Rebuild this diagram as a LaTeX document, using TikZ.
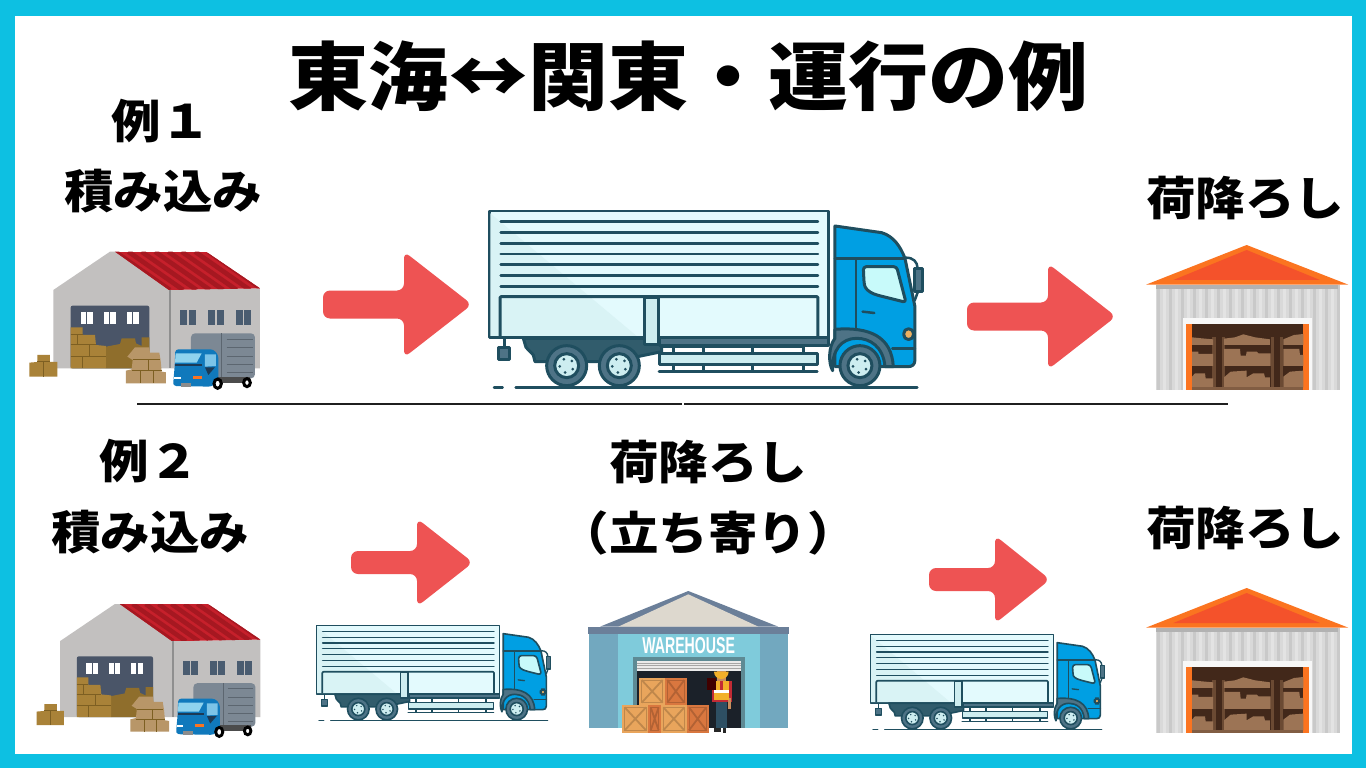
\documentclass[tikz,border=0pt]{standalone}
\usepackage{fontspec}
\newfontfamily\cjk{Noto Sans CJK JP}
\setsansfont{Liberation Sans}
\definecolor{framec}{HTML}{0DC0E2}
\definecolor{arrowc}{HTML}{EE5353}
\definecolor{tkline}{HTML}{1F4E5F}
\definecolor{tkbox}{HTML}{E3FAFD}
\definecolor{tkshade}{HTML}{D9F3F5}
\definecolor{tkpale}{HTML}{CDEDF0}
\definecolor{tkmid}{HTML}{4E7386}
\definecolor{tkblue}{HTML}{009FE3}
\definecolor{tkwin}{HTML}{C8FAFA}
\definecolor{tklamp}{HTML}{EDB061}
\definecolor{rwall}{HTML}{C2C0BF}
\definecolor{rroof}{HTML}{C6202B}
\definecolor{rstripe}{HTML}{A61821}
\definecolor{rdoor}{HTML}{4A5568}
\definecolor{rwin}{HTML}{4A5C70}
\definecolor{rline}{HTML}{8F8F8F}
\definecolor{ltbox}{HTML}{7C8894}
\definecolor{ltline}{HTML}{5C6670}
\definecolor{ltcab}{HTML}{1079BC}
\definecolor{ltglass}{HTML}{8FD3EE}
\definecolor{ltside}{HTML}{7CC4E8}
\definecolor{ltdark}{HTML}{1D3A55}
\definecolor{boxa}{HTML}{A98238}
\definecolor{boxb}{HTML}{B89668}
\definecolor{boxc}{HTML}{8F6E2C}
\definecolor{boxl}{HTML}{7D5F22}
\definecolor{brn}{HTML}{42281A}
\definecolor{brm}{HTML}{6B4A33}
\definecolor{brb}{HTML}{9C7455}
\definecolor{orange1}{HTML}{FB7420}
\definecolor{orange2}{HTML}{F4522B}
\definecolor{crl}{HTML}{E9A55C}
\definecolor{crd}{HTML}{D9773F}
\definecolor{wall1}{HTML}{72A8BF}
\definecolor{wall2}{HTML}{7FCBDB}
\definecolor{roofc}{HTML}{6B7F99}
\definecolor{roofi}{HTML}{DDD8CE}
\definecolor{doorf}{HTML}{5E8A94}
\definecolor{doork}{HTML}{1B2129}
\definecolor{wk2}{HTML}{2E4F63}
\definecolor{skin}{HTML}{C98E5E}
\definecolor{vest}{HTML}{F2B02A}
\definecolor{shirt}{HTML}{C22B35}
\tikzset{
  lbl/.style={font=\cjk\bfseries\fontsize{49.5}{51}\selectfont,inner sep=0pt,text=black,yscale=0.93},
  tk/.style={draw=tkline,line width=9pt*\S,line join=round},
  tkthin/.style={draw=tkline,line width=7.5pt*\S,line cap=round},
  redarrow/.style={fill=arrowc,rounded corners=7pt}
}
% block arrow: left x, mid y, head x, tip x, shaft half height, head half height
\newcommand{\blockarrow}[6]{%
  \fill[redarrow] (#1,#2-#5) -- (#3,#2-#5) -- (#3,#2-#6) -- (#4,#2) -- (#3,#2+#6) -- (#3,#2+#5) -- (#1,#2+#5) -- cycle;
}
\newcommand{\wheelart}[2]{%
  \filldraw[tk,fill=tkmid] (#1,#2) circle (60);
  \filldraw[tk,fill=tkpale] (#1,#2) circle (36);
  \foreach \bolt in {0,72,144,216,288}{\fill[tkline] (#1,#2) ++(\bolt+30:21) circle (4.5);}
}
\newcommand{\truckart}[3]{%
 \begin{scope}[shift={(#1,#2)},x=#3pt,y=-#3pt]
 \def\S{#3}
 % box
 \filldraw[tk,fill=tkbox] (27,33) rectangle (1045,412);
 \fill[tkshade] (31,40) -- (470,408) -- (31,408) -- cycle;
 \foreach \yy in {65,98,130,162,194,227,259}{\draw[tkthin] (62,\yy) -- (1014,\yy);}
 \draw[tk,rounded corners=1pt] (60,410) -- (60,290) -- (1014,290) -- (1014,410);
 % rear drop
 \draw[tk] (72,415) -- (72,442);
 \filldraw[tk,fill=tkmid] (55,444) rectangle (88,480);
 % chassis
 \filldraw[tk,fill=tkline!92!white] (130,415) -- (545,415) -- (545,455) -- (400,485) -- (165,485) -- (160,465) -- (138,442) -- cycle;
 % skirt
 \filldraw[tk,fill=tkmid] (540,412) rectangle (1045,437);
 \filldraw[tk,fill=tkpale] (495,292) rectangle (535,435);
 % guard
 \foreach \xx in {580,670,818,970}{\draw[tkthin] (\xx,440) -- (\xx,515);}
 \draw[tkthin] (545,440) -- (970,440);
 \draw[tkthin] (537,515) -- (1012,515);
 \filldraw[tk,fill=tkpale] (538,460) rectangle (1012,495);
 % cab
 \filldraw[tk,fill=tkblue] (1065,78) -- (1205,98) .. controls (1240,108) and (1262,140) .. (1275,175) -- (1305,320) -- (1305,480) .. controls (1305,495) and (1295,500) .. (1285,500) -- (1240,500) -- (1065,500) -- cycle;
 \filldraw[tk,fill=tkmid] (1065,388) .. controls (1170,380) and (1235,410) .. (1240,500) -- (1215,500) .. controls (1210,440) and (1170,415) .. (1130,415) .. controls (1085,415) and (1055,450) .. (1058,512) .. controls (1045,490) and (1045,440) .. (1065,415) -- cycle;
 \draw[tkthin] (1065,175) -- (1275,175);
 \draw[tkthin] (1128,175) -- (1128,385);
 \draw[tkthin] (1237,445) -- (1305,445);
 \draw[tkthin] (1148,335) -- (1183,339);
 \filldraw[tk,fill=tkwin,rounded corners=3pt] (1150,200) -- (1250,200) -- (1278,307) -- (1190,285) .. controls (1165,275) and (1155,265) .. (1152,245) -- cycle;
 \filldraw[tk,fill=tklamp,rounded corners=4pt] (1272,387) rectangle (1300,418);
 \draw[tkthin] (1278,173) .. controls (1300,173) and (1312,185) .. (1313,205);
 \draw[tkthin] (1314,275) -- (1304,302);
 \filldraw[tk,fill=tkmid] (1305,205) rectangle (1327,275);
 % wheels
 \wheelart{260}{497}\wheelart{418}{497}\wheelart{1140}{497}
 % ground
 \draw[tkthin] (42,562) -- (68,562);
 \draw[tkthin] (107,562) -- (1312,562);
 \end{scope}}
\newcommand{\redhouse}[3]{%
 \begin{scope}[shift={(#1,#2)},x=#3pt,y=-#3pt]
 \def\S{#3}
 \fill[rwall] (100,150) -- (270,35) -- (285,35) -- (450,150) -- (720,145) -- (720,385) -- (100,385) -- cycle;
 \begin{scope}
 \clip (285,35) -- (558,35) -- (720,145) -- (447,150) -- cycle;
 \fill[rroof] (285,35) rectangle (720,150);
 \foreach \aa in {0,40,...,280}{\draw[line width=14pt*\S,color=rstripe] (285+\aa,35) -- (450+\aa,150);}
 \end{scope}
 \draw[line width=5pt*\S,color=rline] (450,150) -- (450,385);
 \fill[rounded corners=2pt,color=rdoor] (152,197) rectangle (388,385);
 \foreach \xx in {182,251,320}{\fill[white] (\xx,217) rectangle +(36,35); \fill[rdoor] (\xx+16,217) rectangle +(4,35);}
 \foreach \xx in {481,565,648}{\fill[rwin] (\xx,210) rectangle +(21,45); \fill[rwin] (\xx+25,210) rectangle +(21,45);}
 % boxes in door
 \fill[color=boxc] (258,320) -- (300,312) -- (305,295) -- (345,295) -- (348,310) -- (365,318) -- (365,292) -- (388,292) -- (388,385) -- (258,385) -- cycle;
 \fill[color=boxa] (152,262) -- (188,262) -- (188,285) -- (225,285) -- (228,315) -- (258,318) -- (258,385) -- (152,385) -- cycle;
 \draw[line width=3pt*\S,color=boxl] (152,285) -- (188,285) (152,315) -- (228,315) (152,350) -- (258,350) (172,285) -- (172,315) (210,315) -- (210,350) (188,350) -- (188,385);
 \fill[color=boxb] (345,322) -- (388,322) -- (390,338) -- (418,338) -- (422,362) -- (425,395) -- (438,397) -- (438,430) -- (318,430) -- (318,392) -- (335,388) -- (338,360) -- (322,350) -- cycle;
 \draw[line width=3pt*\S,color=boxl] (338,360) -- (420,360) (335,392) -- (425,392) (362,392) -- (362,430) (400,392) -- (400,430) (385,360) -- (385,392);
 \fill[color=boxa] (52,345) -- (90,345) -- (90,366) -- (112,366) -- (112,410) -- (28,410) -- (28,368) -- (52,366) -- cycle;
 \draw[line width=3pt*\S,color=boxl] (52,366) -- (90,366) (72,366) -- (72,410);
 % little truck
 \fill[rounded corners=4pt,color=ltbox] (513,280) rectangle (705,415);
 \foreach \yy in {298,323,350,375,398}{\draw[line width=3pt*\S,color=ltline] (620,\yy) -- (698,\yy);}
 \draw[line width=3pt*\S,color=ltline] (605,280) -- (605,412);
 \fill[color=black!70] (590,410) rectangle (690,428);
 \fill[rounded corners=3pt,color=ltcab] (466,328) -- (580,328) -- (595,345) -- (595,425) -- (575,440) -- (460,438) -- (460,425) -- (464,380) -- cycle;
 \fill[color=ltglass] (467,340) -- (545,340) -- (530,368) -- (465,368) -- cycle;
 \fill[color=ltside] (555,343) -- (588,343) -- (588,378) -- (555,380) -- cycle;
 \fill[color=ltdark] (555,382) -- (585,382) -- (565,405) -- cycle;
 \fill[color=ltdark] (465,372) rectangle (545,378);
 \fill[color=white] (463,410) rectangle (482,417);
 \fill[color=orange1] (518,408) rectangle (545,417);
 \fill[color=black!45] (482,428) rectangle (512,440);
 \filldraw[fill=white,draw=black,line width=9pt*\S] (593,431) ellipse (11 and 14);
 \filldraw[fill=white,draw=black,line width=9pt*\S] (681,428) ellipse (10 and 12);
 \end{scope}}
\newcommand{\orangehouse}[2]{%
 \begin{scope}[shift={(#1,#2)},x=0.3333pt,y=-0.3333pt]
 \fill[color=black!15] (48,134) rectangle (595,450);
 \foreach \xx in {52,88,...,592}{\fill[color=black!21] (\xx,134) rectangle +(9,316);}
 \foreach \xx in {70,106,...,592}{\fill[color=black!11] (\xx,134) rectangle +(9,316);}
 \fill[color=black!30] (48,134) rectangle (595,148);
 \fill[color=orange1] (18,134) -- (320,15) -- (625,134) -- cycle;
 \fill[color=orange2] (100,120) -- (320,30) -- (540,120) -- cycle;
 \fill[color=black!3] (128,235) rectangle (516,450);
 \fill[color=orange1] (138,252) rectangle (507,450);
 \fill[color=brn] (156,252) rectangle (490,450);
 \foreach \xx in {217,245,392,420}{\fill[color=brm] (\xx,290) rectangle +(10,152);}
 \fill[color=brb] (156,292) -- (185,295) -- (219,298) -- (219,315) -- (156,315) -- cycle;
 \fill[color=brb] (252,296) -- (285,292) -- (310,283) -- (345,292) -- (390,298) -- (390,315) -- (252,315) -- cycle;
 \fill[color=brb] (430,298) -- (462,285) -- (490,282) -- (490,315) -- (430,315) -- cycle;
 \fill[color=brb] (156,335) -- (175,335) -- (175,342) -- (219,342) -- (219,378) -- (156,378) -- cycle;
 \fill[color=brb] (252,327) -- (300,327) -- (302,347) -- (318,347) -- (320,335) -- (350,335) -- (355,340) -- (392,340) -- (392,378) -- (252,378) -- cycle;
 \fill[color=brb] (430,327) -- (478,327) -- (480,345) -- (490,345) -- (490,378) -- (430,378) -- cycle;
 \fill[color=brb] (156,410) -- (165,400) -- (195,400) -- (197,415) -- (219,415) -- (219,442) -- (156,442) -- cycle;
 \fill[color=brb] (252,412) -- (272,395) -- (320,392) -- (320,412) -- (340,400) -- (372,400) -- (375,412) -- (390,412) -- (390,442) -- (252,442) -- cycle;
 \fill[color=brb] (430,410) -- (450,395) -- (490,392) -- (490,442) -- (430,442) -- cycle;
 \fill[color=brb!70!brn] (156,442) rectangle (490,450);
 \end{scope}}
\newcommand{\crateart}[5]{% x y w h colour
 \fill[color=#5] (#1,#2) rectangle +(#3,#4);
 \draw[color=#5!82!black,line width=0.8pt] (#1+7,#2+7) rectangle +(#3-14,#4-14);
 \draw[color=#5!82!black,line width=1.8pt] (#1+7,#2+7) -- +(#3-14,#4-14) (#1+#3-7,#2+7) -- +(-#3+14,#4-14);
}
\newcommand{\bluehouse}[2]{%
 \begin{scope}[shift={(#1,#2)},x=0.3333pt,y=-0.3333pt]
 \fill[color=wall1] (28,145) rectangle (625,430);
 \fill[color=wall2] (113,145) rectangle (540,430);
 \fill[color=roofc] (60,125) -- (325,18) -- (595,125) -- cycle;
 \fill[color=roofi] (115,125) -- (325,28) -- (535,125) -- cycle;
 \fill[color=roofc] (25,125) rectangle (628,147);
 \node[inner sep=0pt,text=white,font=\sffamily\bfseries\fontsize{23}{23}\selectfont,xscale=0.615] (whsign) at (326,183) {WAREHOUSE};
 \fill[color=doorf] (158,217) rectangle (495,430);
 \fill[color=doork] (170,228) rectangle (482,430);
 \fill[color=black!8] (170,228) rectangle (482,257);
 \foreach \yy in {234,242,250}{\draw[color=black!35,line width=0.6pt] (170,\yy) -- (482,\yy);}
 \crateart{178}{278}{77}{82}{crl}
 \crateart{255}{278}{65}{82}{crd}
 \crateart{127}{360}{78}{83}{crl}
 \crateart{205}{360}{38}{83}{crd}
 \crateart{243}{360}{77}{83}{crl}
 \crateart{320}{360}{66}{83}{crd}
 % worker
 \fill[color=wk2] (407,345) rectangle (442,430);
 \fill[color=black!85] (403,430) rectangle (422,440);
 \fill[color=black!85] (428,430) rectangle (438,443);
 \fill[color=shirt] (396,287) rectangle (457,352);
 \fill[color=skin] (444,340) rectangle (454,372);
 \fill[color=skin] (410,258) rectangle (438,290);
 \fill[color=vest] (402,288) rectangle (446,345);
 \fill[color=white] (402,316) rectangle (446,324);
 \fill[color=shirt] (419,288) rectangle (429,316);
 \fill[color=black!75!red] (380,280) rectangle (408,315);
 \fill[color=vest] (402,260) arc (180:0:22) -- cycle;
 \end{scope}}
\begin{document}
\begin{tikzpicture}[x=1pt,y=-1pt]
\useasboundingbox (0,0) rectangle (1366,768);
\fill[framec] (0,0) rectangle (1366,768);
\fill[white] (15,16) rectangle (1352,754);

\node[lbl,font=\cjk\bfseries\fontsize{80}{82}\selectfont] (title) at (688,76) {東海↔関東・運行の例};
\node[lbl] (ex1) at (161,121) {例１};
\node[lbl] (load1) at (163,191) {積み込み};
\node[lbl] (unload1) at (1245,198) {荷降ろし};
\node[lbl] (ex2) at (149,461) {例２};
\node[lbl] (load2) at (150,532) {積み込み};
\node[lbl] (unload2) at (708,462) {荷降ろし};
\node[lbl] (stop) at (708,533) {（立ち寄り）};
\node[lbl] (unload3) at (1245,528) {荷降ろし};

\redhouse{20}{240}{0.3333}
\redhouse{27.7}{592.7}{0.323}
\orangehouse{1140}{240}
\orangehouse{1140}{583}
\bluehouse{580}{585}
\truckart{480}{200}{0.3333}
\truckart{311.5}{619.6}{0.18}
\truckart{865.5}{628.6}{0.18}

\blockarrow{323}{304.5}{404}{472}{14}{53}
\blockarrow{967}{316.5}{1048}{1116}{14}{53}
\blockarrow{351}{562.5}{417}{473}{11.5}{44}
\blockarrow{929}{579.5}{995}{1050}{11.5}{44}

\draw[line width=1.5pt,color=black!88] (137,404) -- (682,404);
\draw[line width=1.5pt,color=black!88] (684,404) -- (1228,404);
\end{tikzpicture}
\end{document}
